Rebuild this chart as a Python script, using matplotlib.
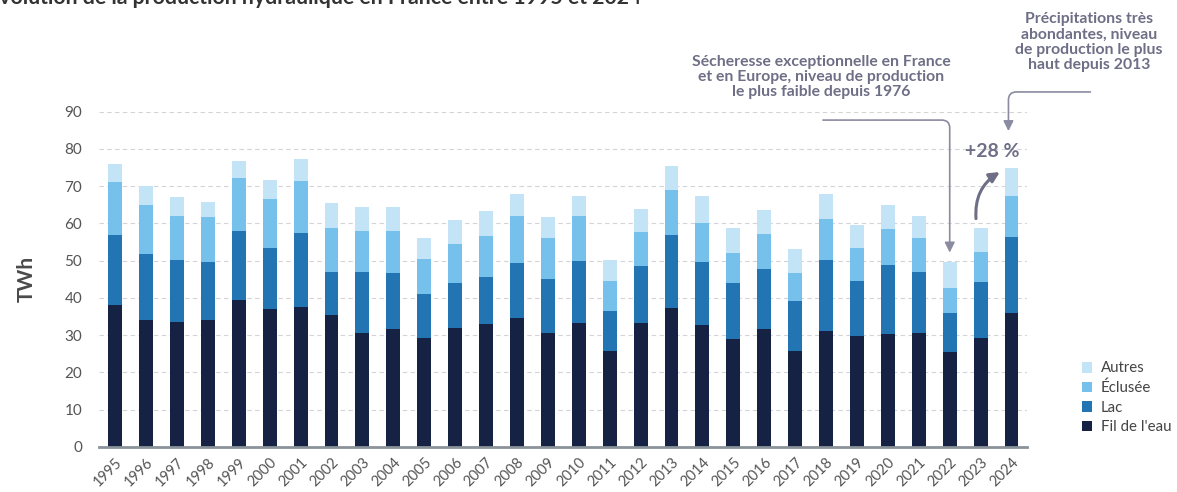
import matplotlib
matplotlib.use("Agg")
import matplotlib.pyplot as plt
from matplotlib.patches import Patch
import numpy as np

plt.rcParams['font.family'] = ['Lato', 'DejaVu Sans']

years = [str(y) for y in range(1995, 2025)]
# cumulative tops (TWh)
fil_top = [38.2, 34.1, 33.5, 34.1, 39.5, 37.0, 37.5, 35.5, 30.7, 31.8,
           29.3, 32.0, 33.0, 34.6, 30.6, 33.2, 25.8, 33.4, 37.3, 32.7,
           29.0, 31.6, 25.7, 31.1, 29.9, 30.3, 30.5, 25.5, 29.3, 36.0]
lac_top = [56.9, 51.7, 50.3, 49.7, 58.1, 53.4, 57.4, 47.0, 46.9, 46.6,
           41.0, 44.0, 45.7, 49.4, 45.2, 50.0, 36.4, 48.6, 57.0, 49.6,
           44.0, 47.7, 39.1, 50.1, 44.5, 48.9, 46.9, 36.1, 44.2, 56.5]
ecl_top = [71.2, 64.9, 61.9, 61.8, 72.1, 66.7, 71.5, 58.9, 58.0, 58.0,
           50.4, 54.5, 56.6, 61.9, 56.1, 61.9, 44.6, 57.7, 69.0, 60.1,
           52.1, 57.1, 46.6, 61.1, 53.5, 58.6, 56.0, 42.8, 52.4, 67.4]
total = [75.9, 70.0, 67.2, 65.8, 76.8, 71.7, 77.4, 65.4, 64.4, 64.4,
         56.2, 61.0, 63.3, 68.0, 61.8, 67.5, 50.2, 63.8, 75.5, 67.4,
         58.7, 63.6, 53.1, 67.9, 59.7, 65.0, 62.0, 49.6, 58.9, 75.0]

fil = np.array(fil_top)
lac = np.array(lac_top) - np.array(fil_top)
ecl = np.array(ecl_top) - np.array(lac_top)
autres = np.array(total) - np.array(ecl_top)

series_labels = ["Fil de l'eau", "Lac", "Éclusée", "Autres"]
colors = ["#152243", "#2374B3", "#76C1EB", "#C3E4F7"]
yticks = [0, 10, 20, 30, 40, 50, 60, 70, 80, 90]

fig = plt.figure(figsize=(11.77, 4.92), dpi=100)
ax = fig.add_axes([99/1177, 1-447/492, (1027-99)/1177, (447-111.7)/492])

x = np.arange(len(years))
w = 0.45
bottom = np.zeros(len(years))
for vals, c, lab in zip([fil, lac, ecl, autres], colors, series_labels):
    ax.bar(x, vals, w, bottom=bottom, color=c, label=lab, zorder=3)
    bottom = bottom + vals

ax.set_xlim(-0.52, 29.5)
ax.set_ylim(0, 90)
ax.set_yticks(yticks)
ax.set_yticklabels([str(t) for t in yticks], fontsize=11, color="#555555")
ax.yaxis.grid(True, linestyle=(0, (4, 3)), color="#d4d4d8", linewidth=0.8, zorder=0)
ax.set_xticks(x)
ax.set_xticklabels(years, rotation=45, ha='right', rotation_mode='anchor',
                   fontsize=10.5, color="#555555")
ax.tick_params(axis='both', length=0)
ax.tick_params(axis='y', pad=12)
ax.tick_params(axis='x', pad=6)
for s in ['top', 'right', 'left']:
    ax.spines[s].set_visible(False)
ax.spines['bottom'].set_color("#8a929a")
ax.spines['bottom'].set_linewidth(2)
ax.spines['bottom'].set_zorder(4)

ax.set_ylabel("TWh", fontsize=15, fontweight='bold', color="#4a4a4a", labelpad=20)

# legend
handles = [Patch(facecolor=c, label=l) for c, l in zip(colors, series_labels)][::-1]
fig.legend(handles=handles, loc='upper left', bbox_to_anchor=(1068/1177, 1-348/492),
           frameon=False, fontsize=10.8, handlelength=0.7, handleheight=0.7,
           handletextpad=0.6, labelspacing=0.36, labelcolor="#444444")

# title (cropped at the top of the image)
fig.text(-13/1177, 1-4/492, "Évolution de la production hydraulique en France entre 1995 et 2024",
         ha='left', va='baseline', fontsize=15.3, fontweight='bold', color="#333333")

acol = "#6e6e86"
lcol = "#8a8aa0"

# drought annotation
i22 = years.index("2022")
ax.text(22.85, 99.3, "Sécheresse exceptionnelle en France\net en Europe, niveau de production\nle plus faible depuis 1976",
        ha='center', va='center', fontsize=11.3, fontweight='bold', color=acol,
        linespacing=1.13, clip_on=False)
ax.annotate("", xy=(i22, total[i22] + 2.6), xytext=(22.9, 87.75),
            xycoords='data', textcoords='data', annotation_clip=False,
            arrowprops=dict(arrowstyle="-|>,head_length=0.6,head_width=0.3",
                            color=lcol, lw=1.2,
                            connectionstyle="angle,angleA=0,angleB=90,rad=8",
                            shrinkA=0, shrinkB=0))

# 2024 annotation
i24 = years.index("2024")
ax.text(31.5, 108.7, "Précipitations très\nabondantes, niveau\nde production le plus\nhaut depuis 2013",
        ha='center', va='center', fontsize=11.3, fontweight='bold', color=acol,
        linespacing=1.13, clip_on=False)
ax.annotate("", xy=(i24 - 0.1, 84.8), xytext=(31.55, 95.3),
            xycoords='data', textcoords='data', annotation_clip=False,
            arrowprops=dict(arrowstyle="-|>,head_length=0.6,head_width=0.3",
                            color=lcol, lw=1.2,
                            connectionstyle="angle,angleA=0,angleB=90,rad=8",
                            shrinkA=0, shrinkB=0))

# +28 %
i23 = years.index("2023")
ax.text(28.37, 79.4, "+28 %", ha='center', va='center', fontsize=14,
        fontweight='bold', color=acol, clip_on=False)
ax.annotate("", xy=(i23 + 0.62, total[i23] + 14.9), xytext=(i23 - 0.15, total[i23] + 2.4),
            xycoords='data', textcoords='data', annotation_clip=False,
            arrowprops=dict(arrowstyle="-|>,head_length=0.6,head_width=0.3",
                            color=acol, lw=2.2,
                            connectionstyle="arc3,rad=-0.3",
                            shrinkA=0, shrinkB=0))

fig.savefig("out.png", dpi=100)
